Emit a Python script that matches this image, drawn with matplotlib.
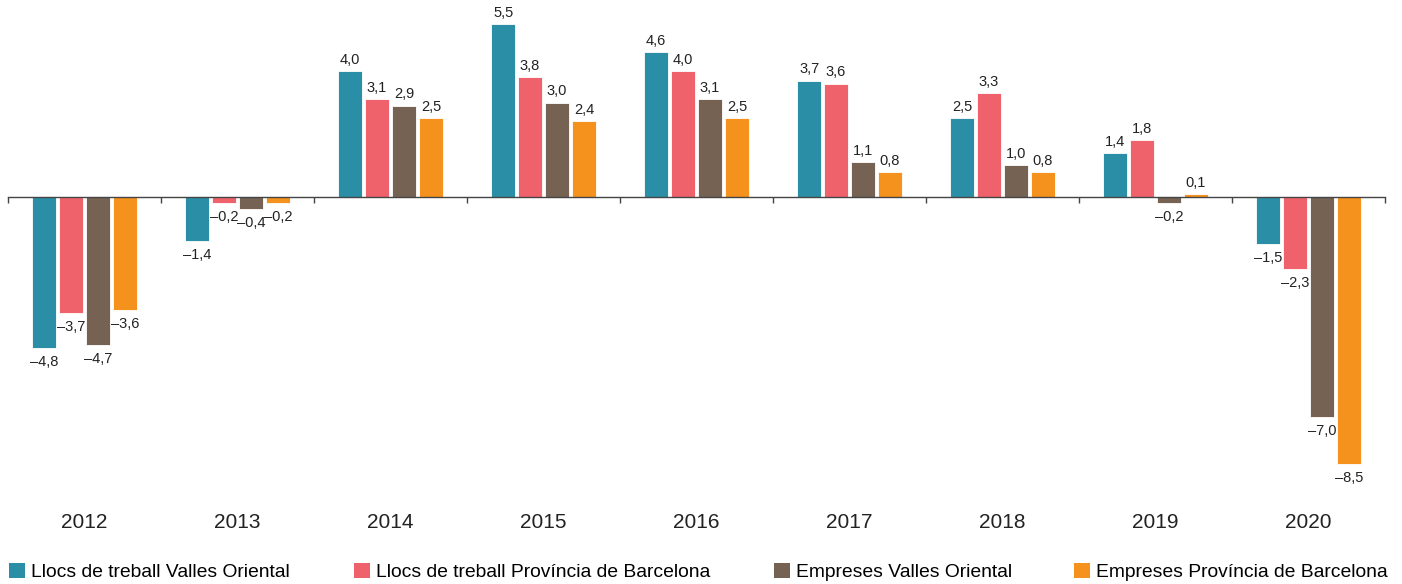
import numpy as np
import matplotlib.pyplot as plt
from matplotlib.patches import Patch
import matplotlib.transforms as mtransforms

plt.rcParams['font.family'] = ['Liberation Sans', 'DejaVu Sans']

years = ['2012', '2013', '2014', '2015', '2016', '2017', '2018', '2019', '2020']
series_names = ['Llocs de treball Valles Oriental',
                'Llocs de treball Província de Barcelona',
                'Empreses Valles Oriental',
                'Empreses Província de Barcelona']
llocs_vo = [-4.8, -1.4, 4.0, 5.5, 4.6, 3.7, 2.5, 1.4, -1.5]
llocs_pb = [-3.7, -0.2, 3.1, 3.8, 4.0, 3.6, 3.3, 1.8, -2.3]
empreses_vo = [-4.7, -0.4, 2.9, 3.0, 3.1, 1.1, 1.0, -0.2, -7.0]
empreses_pb = [-3.6, -0.2, 2.5, 2.4, 2.5, 0.8, 0.8, 0.1, -8.5]
colors = ['#2a8fa6', '#f0626b', '#766253', '#f5921e']

W, H = 1402, 584
fig = plt.figure(figsize=(W / 100, H / 100), dpi=100)
ax = fig.add_axes([8 / W, (H - 500) / H, 1377 / W, 500 / H])

x = np.arange(len(years))
width = 0.157
step = 0.176
series = [llocs_vo, llocs_pb, empreses_vo, empreses_pb]

for i, (vals, col) in enumerate(zip(series, colors)):
    pos = x + (i - 1.5) * step
    ax.bar(pos, vals, width, color=col, edgecolor='white', linewidth=0.6)
    for px, v in zip(pos, vals):
        txt = f'{abs(v):.1f}'.replace('.', ',')
        if v < 0:
            ax.annotate('\u2013' + txt, (px, v), xytext=(0, -5), textcoords='offset points',
                        ha='center', va='top', fontsize=10.5, color='#222222')
        else:
            ax.annotate(txt, (px, v), xytext=(0, 3), textcoords='offset points',
                        ha='center', va='bottom', fontsize=10.5, color='#222222')

ax.set_xlim(-0.5, len(years) - 0.5)
ax.set_ylim(-9.64, 6.26)

for s in ['top', 'right', 'left']:
    ax.spines[s].set_visible(False)
ax.spines['bottom'].set_position(('data', 0))
ax.spines['bottom'].set_color('#444444')
ax.spines['bottom'].set_linewidth(1.0)
ax.set_yticks([])
ax.set_xticks(np.arange(len(years) + 1) - 0.5)
ax.set_xticklabels([])
ax.tick_params(axis='x', direction='out', length=4, color='#444444', width=1.0)

trans = mtransforms.blended_transform_factory(ax.transData, ax.transAxes)
for xi, yr in zip(x, years):
    ax.text(xi, -0.044, yr, transform=trans, ha='center', va='center',
            fontsize=15, color='#222222')

# legend entries placed one by one, like in the original
legend_x = [9, 354, 774, 1074]
for lx, name, c in zip(legend_x, series_names, colors):
    fig.legend([Patch(facecolor=c, edgecolor='none')], [name], loc='center left',
               bbox_to_anchor=(lx / W, 1 - 572 / H), frameon=False, fontsize=13.9,
               handlelength=0.82, handleheight=0.82, handletextpad=0.3,
               borderpad=0, borderaxespad=0)

fig.savefig('out.png', dpi=100)
